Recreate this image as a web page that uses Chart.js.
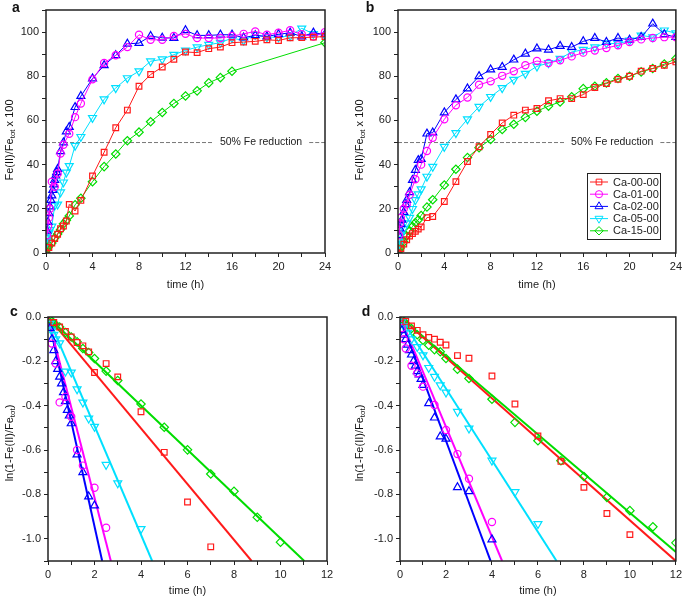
<!DOCTYPE html>
<html>
<head>
<meta charset="utf-8">
<script src="https://cdn.jsdelivr.net/npm/chart.js@4.4.1/dist/chart.umd.min.js"></script>
<style>
body{margin:0;background:#fff;}
#wrap{position:relative;width:685px;height:600px;background:#fff;}
canvas{position:absolute;}
</style>
</head>
<body>
<div id="wrap">
<canvas id="ca" width="340" height="295" style="left:0;top:0"></canvas>
<canvas id="cb" width="345" height="295" style="left:340px;top:0"></canvas>
<canvas id="cc" width="340" height="305" style="left:0;top:295px"></canvas>
<canvas id="cd" width="345" height="305" style="left:340px;top:295px"></canvas>
</div>
<script>
const names=["Ca-00-00","Ca-01-00","Ca-02-00","Ca-05-00","Ca-15-00"];
const colors=["#ff1a1a","#ff00ff","#0000ff","#00e0ff","#00dd00"];
const shapes=["rect","circle","triangle","triangle","rectRot"];
const rots=[0,0,0,180,0];
const radii=[4,3.6,4.6,4.6,4.2];

// panel a : Fe(II)/Fe_tot x 100 vs time
const tA0=[0,0.25,0.5,0.75,1,1.25,1.5,1.75,2,2.5,3,4,5,6,7,8,9,10,11,12,13,14,15,16,17,18,19,20,21,22,23,24];
const yA0=[0,2.5,4.5,6.5,8.5,11,12.2,14.5,22,19,23.8,34.9,45.6,56.7,64.7,75.5,80.8,84.2,87.7,91,90.7,92.5,93.2,95.2,95.5,95.8,96.5,96.2,97.4,97.5,97.7,98];
const tA1=[0.083,0.167,0.25,0.333,0.5,0.75,1,1.25,1.5,2,2.5,3,4,5,6,7,8,9,10,11,12,13,14,15,16,17,18,19,20,21,22,23,24];
const yA1=[8,12,16,20,32.3,30,36,45,49,54,61.5,67.7,78.6,86,89.5,93.2,98.8,96.5,96.5,98.2,99.2,97.3,97.3,97.3,98.2,99.2,100.3,98.8,99.7,100.8,99,98,100];
const tA2=[0.083,0.167,0.25,0.333,0.417,0.5,0.583,0.667,0.75,0.833,0.917,1,1.25,1.5,1.75,2,2.5,3,4,5,6,7,8,9,10,11,12,13,14,15,16,17,18,19,20,21,22,23,24];
const yA2=[10,14,18,21,24,26,28.5,31,33,35,36.5,38,46,50,55,57,66,71,79,85,89.5,94.7,95,98.2,97.4,97.3,100.8,98.5,98.5,98.8,98.8,97.5,98.5,98,99,99.7,98,99.7,99];
const tA3=[0.083,0.167,0.25,0.333,0.5,0.75,1,1.25,1.5,1.75,2,2.5,3,4,5,6,7,8,9,10,11,12,13,14,15,16,17,18,19,20,21,22,23,24];
const yA3=[5,7,9,10.5,12,21.5,22,27.5,32,36.5,39.4,48.6,52.6,61.2,69.6,74.7,79.2,82.3,86.8,87.7,89.8,91.7,93.2,94.3,95.2,97.3,96.2,98.8,97.7,97.7,98.2,101.7,99.2,98.5];
const tA4=[0,0.083,0.167,0.25,0.5,0.75,1,1.25,1.5,1.75,2,2.5,3,4,5,6,7,8,9,10,11,12,13,14,15,16,24];
const yA4=[0,1.5,2.5,3.5,4.5,6.8,8.6,10.6,13.2,14.8,16.8,21.8,24.8,32.3,39.1,44.8,50.8,54.7,59.4,63.6,67.7,71.1,73.4,77,79.4,82.3,95.2];

// panel b
const tB0=[0,0.25,0.5,0.75,1,1.25,1.5,1.75,2,2.5,3,4,5,6,7,8,9,10,11,12,13,14,15,16,17,18,19,20,21,22,23,24];
const yB0=[0,2,4,6,7.7,8.8,9.8,10.8,11.8,16,16.5,23.3,32.3,41.4,48.1,53.7,58.9,62.4,64.7,65.4,68.9,69.9,69.9,71.7,74.9,76.7,78.6,80,82.3,83.5,85,86.5];
const tB1=[0.083,0.167,0.25,0.5,0.75,1,1.5,2,2.5,3,4,5,6,7,8,9,10,11,12,13,14,15,16,17,18,19,20,21,22,23,24];
const yB1=[8,13.5,16,20,22,26.3,33.4,40,46.2,52.2,60.5,66.9,70.4,76.2,77.7,80.2,82.3,85,86.9,86,87.2,89,90.7,91.7,92.8,94,95.5,96.7,97.3,97.7,97.7];
const tB2=[0.083,0.167,0.25,0.333,0.5,0.667,0.75,1,1.25,1.5,1.75,2,2.5,3,4,5,6,7,8,9,10,11,12,13,14,15,16,17,18,19,20,21,22,23,24];
const yB2=[8,11,13,15,18.5,22,24,27.5,33,37.5,42,42.5,54,54.5,63.6,69.5,74.4,80,83,84.2,87.5,90.2,92.5,92,93.7,93.2,95.8,97.3,95.5,97.3,96.5,97.7,103.8,99,97.7];
const tB3=[0.083,0.167,0.25,0.5,0.75,1,1.25,1.5,1.75,2,2.5,3,4,5,6,7,8,9,10,11,12,13,14,15,16,17,18,19,20,21,22,23,24];
const yB3=[4,6,8,11,13.5,16,20,24,26.6,28.9,34.6,39.1,48.1,54.4,60.6,66.2,70.7,74.7,78.5,81.2,84.5,86,88,91,92,93.2,95,94.7,96.2,98.5,97.7,100.8,99.5];
const tB4=[0,0.083,0.167,0.25,0.5,0.75,1,1.25,1.5,1.75,2,2.5,3,4,5,6,7,8,9,10,11,12,13,14,15,16,17,18,19,20,21,22,23,24];
const yB4=[0,1,2,3,5,7.7,10,12,13.7,15,17,20.8,24.1,30.8,37.9,43.2,47.7,51.4,55.9,58.3,61.4,64.2,66.5,68.4,70.7,74.4,75.5,77,79,80,82,83.5,85.5,88];

// panel c : ln(1-Fe(II)/Fe_tot)
const tC0=[0.25,0.5,0.75,1,1.25,1.5,1.75,2,2.5,3,4,5,6,7];
const yC0=[-0.025,-0.045,-0.065,-0.09,-0.115,-0.13,-0.157,-0.25,-0.21,-0.27,-0.427,-0.61,-0.834,-1.036];
const tC1=[0.167,0.333,0.5,0.75,1,1.25,1.5,2,2.5];
const yC1=[-0.12,-0.21,-0.385,-0.36,-0.45,-0.6,-0.67,-0.77,-0.95];
const tC2=[0.083,0.167,0.25,0.333,0.417,0.5,0.583,0.667,0.75,0.833,0.917,1,1.25,1.5,1.75,2];
const yC2=[-0.05,-0.1,-0.15,-0.2,-0.235,-0.27,-0.3,-0.34,-0.38,-0.42,-0.445,-0.48,-0.62,-0.7,-0.81,-0.85];
const tC3=[0.083,0.167,0.25,0.333,0.5,0.75,1,1.25,1.5,1.75,2,2.5,3,4];
const yC3=[-0.03,-0.06,-0.08,-0.1,-0.118,-0.245,-0.25,-0.325,-0.385,-0.457,-0.494,-0.666,-0.749,-0.955];
const tC4=[0.083,0.167,0.25,0.333,0.5,0.75,1,1.25,1.5,1.75,2,2.5,3,4,5,6,7,8,9,10];
const yC4=[-0.01,-0.02,-0.03,-0.035,-0.045,-0.07,-0.09,-0.112,-0.142,-0.16,-0.187,-0.244,-0.286,-0.392,-0.497,-0.599,-0.708,-0.786,-0.903,-1.015];
const kC=[0.1256,0.407,0.472,0.2455,0.0998];

// panel d
const tD0=[0.25,0.5,0.75,1,1.25,1.5,1.75,2,2.5,3,4,5,6,7,8,9,10];
const yD0=[-0.02,-0.04,-0.06,-0.08,-0.092,-0.1,-0.114,-0.126,-0.174,-0.186,-0.266,-0.392,-0.536,-0.651,-0.768,-0.886,-0.981];
const tD1=[0.083,0.167,0.25,0.5,0.75,1,1.5,2,2.5,3,4];
const yD1=[-0.05,-0.1,-0.142,-0.22,-0.254,-0.314,-0.397,-0.509,-0.618,-0.729,-0.924];
const tD2=[0.083,0.167,0.25,0.333,0.417,0.5,0.583,0.667,0.75,0.833,0.917,1,1.25,1.5,1.75,2,2.5,3,4];
const yD2=[-0.06,-0.08,-0.1,-0.125,-0.15,-0.17,-0.2,-0.22,-0.245,-0.26,-0.28,-0.307,-0.389,-0.454,-0.539,-0.549,-0.768,-0.786,-1.003];
const tD3=[0.083,0.167,0.25,0.333,0.5,0.75,1,1.25,1.5,1.75,2,2.5,3,4,5,6];
const yD3=[-0.02,-0.04,-0.055,-0.07,-0.1,-0.135,-0.172,-0.229,-0.269,-0.307,-0.34,-0.427,-0.502,-0.647,-0.789,-0.933];
const tD4=[0.083,0.167,0.25,0.5,0.75,1,1.25,1.5,1.75,2,2.5,3,4,5,6,7,8,9,10,11,12];
const yD4=[-0.01,-0.02,-0.03,-0.052,-0.08,-0.105,-0.127,-0.147,-0.157,-0.187,-0.235,-0.277,-0.371,-0.475,-0.558,-0.648,-0.719,-0.813,-0.873,-0.946,-1.018];
const kD=[0.0917,0.2477,0.279,0.1615,0.0883];

const FONT="'Liberation Sans', Arial, sans-serif";
Chart.defaults.font.family=FONT;
Chart.defaults.color="#222";

const pts=(t,y)=>t.map((x,i)=>({x:x,y:y[i]}));

function markers(ts,ys,line){
  return names.map((n,i)=>({
    label:n,data:pts(ts[i],ys[i]),
    borderColor:colors[i],backgroundColor:"rgba(0,0,0,0)",
    borderWidth:1,showLine:line,
    pointStyle:shapes[i],pointRotation:rots[i],pointRadius:radii[i],pointBorderWidth:1.2,
    pointBackgroundColor:"rgba(0,0,0,0)",tension:0
  }));
}

function fits(k,xmax,ymin){
  return k.map((v,i)=>{
    let xe=Math.min(xmax,-ymin/v);
    return {label:"fit "+names[i],data:[{x:0,y:0},{x:xe,y:-v*xe}],
      borderColor:colors[i],borderWidth:2,pointRadius:0,showLine:true,tension:0};
  });
}

function axes(o){
  return {
    x:{type:"linear",min:0,max:o.xmax,
      afterFit:s=>{s.height=o.xh;},
      border:{display:false},
      grid:{drawOnChartArea:false,tickLength:4,tickColor:"#222",tickWidth:1},
      ticks:{stepSize:o.xstep,autoSkip:false,maxRotation:0,padding:3,color:"#222",font:{size:11},
        callback:v=>(Math.round(v)%o.xlab===0?v:"")},
      title:{display:true,text:"time (h)",color:"#222",font:{size:11},padding:{top:2,bottom:o.tpad}}},
    y:{type:"linear",min:o.ymin,max:o.ymax,
      afterFit:s=>{s.width=o.yw;},
      border:{display:false},
      grid:{drawOnChartArea:false,tickLength:4,tickColor:"#222",tickWidth:1},
      ticks:{stepSize:o.ystep,autoSkip:false,padding:3,color:"#222",font:{size:11},callback:o.ycb}}
  };
}

const framePlugin={id:"frame",afterDraw(c){
  const a=c.chartArea,ctx=c.ctx;
  ctx.save();ctx.strokeStyle="#222";ctx.lineWidth=1.5;
  ctx.strokeRect(a.left,a.top,a.right-a.left,a.bottom-a.top);
  ctx.restore();
}};

function labelsPlugin(letter,lx,ly,tx,ty,parts){
  return {id:"labels",afterDraw(c){
    const ctx=c.ctx;
    ctx.save();
    ctx.fillStyle="#111";ctx.font="bold 14px "+FONT;ctx.textBaseline="middle";ctx.textAlign="center";
    ctx.fillText(letter,lx,ly);
    ctx.translate(tx,ty);ctx.rotate(-Math.PI/2);
    ctx.textAlign="left";ctx.textBaseline="alphabetic";
    let w=0;
    parts.forEach(p=>{ctx.font=(p[1]?"8px ":"11px ")+FONT;w+=ctx.measureText(p[0]).width;});
    let x=-w/2;
    parts.forEach(p=>{
      ctx.font=(p[1]?"8px ":"11px ")+FONT;
      ctx.fillText(p[0],x,p[1]?6:4);
      x+=ctx.measureText(p[0]).width;
    });
    ctx.restore();
  }};
}

const halfPlugin={id:"half",beforeDatasetsDraw(c){
  const ctx=c.ctx,a=c.chartArea;
  const y=c.scales.y.getPixelForValue(50);
  const cx=c.scales.x.getPixelForValue(18.5);
  const txt="50% Fe reduction";
  ctx.save();
  ctx.font="10.5px "+FONT;
  const w=ctx.measureText(txt).width;
  ctx.strokeStyle="#555";ctx.lineWidth=0.8;ctx.setLineDash([4,2]);
  ctx.beginPath();
  ctx.moveTo(a.left,y);ctx.lineTo(cx-w/2-7,y);
  ctx.moveTo(cx+w/2+7,y);ctx.lineTo(a.right,y);
  ctx.stroke();
  ctx.fillStyle="#222";ctx.textAlign="center";ctx.textBaseline="middle";
  ctx.fillText(txt,cx,y);
  ctx.restore();
}};

const legendPlugin={id:"boxlegend",afterDraw(c){
  const ctx=c.ctx;
  const bx=247,by=173,bw=73,bh=66;
  ctx.save();
  ctx.fillStyle="#fff";ctx.fillRect(bx,by,bw,bh);
  ctx.strokeStyle="#222";ctx.lineWidth=1;ctx.strokeRect(bx+0.5,by+0.5,bw,bh);
  names.forEach((n,i)=>{
    const y=by+9+i*12.2;
    ctx.strokeStyle=colors[i];ctx.lineWidth=1;
    ctx.beginPath();ctx.moveTo(bx+3,y);ctx.lineTo(bx+21,y);ctx.stroke();
    ctx.fillStyle="rgba(0,0,0,0)";
    Chart.helpers.drawPoint(ctx,{pointStyle:shapes[i],rotation:rots[i],radius:radii[i],borderWidth:1.2},bx+12,y);
    ctx.fillStyle="#222";ctx.font="11px "+FONT;ctx.textAlign="left";ctx.textBaseline="middle";
    ctx.fillText(n,bx+26,y+0.5);
  });
  ctx.restore();
}};

const pctTick=v=>(Math.round(v)%20===0?v:"");
const lnTick=v=>{const n=Math.round(v*10);return n%2===0?(n/10).toFixed(1):"";};
const TOP=[["Fe(II)/Fe",false],["tot",true],[" x 100",false]];
const BOT=[["ln(1-Fe(II)/Fe",false],["tot",true],[")",false]];

function make(id,datasets,sc,pad,plugins){
  new Chart(document.getElementById(id),{
    type:"scatter",
    data:{datasets:datasets},
    options:{responsive:false,animation:false,
      layout:{padding:pad},
      plugins:{legend:{display:false},tooltip:{enabled:false}},
      scales:sc},
    plugins:plugins
  });
}

make("ca",markers([tA0,tA1,tA2,tA3,tA4],[yA0,yA1,yA2,yA3,yA4],true),
  axes({xmax:24,xstep:2,xlab:4,xh:42,tpad:3,ymin:0,ymax:110,ystep:10,yw:46,ycb:pctTick}),
  {top:10,right:15,left:0,bottom:0},
  [halfPlugin,framePlugin,labelsPlugin("a",16,8,9,140,TOP)]);

make("cb",markers([tB0,tB1,tB2,tB3,tB4],[yB0,yB1,yB2,yB3,yB4],true),
  axes({xmax:24,xstep:2,xlab:4,xh:42,tpad:3,ymin:0,ymax:110,ystep:10,yw:58,ycb:pctTick}),
  {top:10,right:8,left:0,bottom:0},
  [halfPlugin,framePlugin,legendPlugin,labelsPlugin("b",30,8,19,140,TOP)]);

make("cc",markers([tC0,tC1,tC2,tC3,tC4],[yC0,yC1,yC2,yC3,yC4],false).concat(fits(kC,12,-1.1)),
  axes({xmax:12,xstep:1,xlab:2,xh:39,tpad:2,ymin:-1.1,ymax:0,ystep:0.1,yw:48,ycb:lnTick}),
  {top:22,right:13,left:0,bottom:0},
  [framePlugin,labelsPlugin("c",14,17,9,148,BOT)]);

make("cd",markers([tD0,tD1,tD2,tD3,tD4],[yD0,yD1,yD2,yD3,yD4],false).concat(fits(kD,12,-1.1)),
  axes({xmax:12,xstep:1,xlab:2,xh:39,tpad:2,ymin:-1.1,ymax:0,ystep:0.1,yw:60,ycb:lnTick}),
  {top:22,right:6,left:0,bottom:0},
  [framePlugin,labelsPlugin("d",26,17,19,148,BOT)]);
</script>
</body>
</html>
